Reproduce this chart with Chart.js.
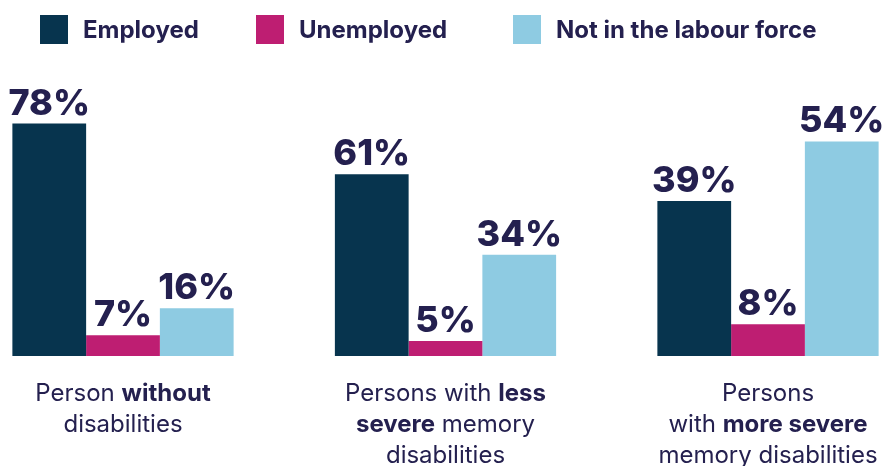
<!DOCTYPE html>
<html>
<head>
<meta charset="utf-8">
<script src="https://cdn.jsdelivr.net/npm/chart.js@4/dist/chart.umd.min.js"></script>
<style>
  html, body { margin: 0; padding: 0; background: #fff; }
  #wrap { position: relative; width: 890px; height: 466px; }
  #legend {
    position: absolute; top: 15px; left: 40px;
    display: flex; align-items: center;
    font-family: Inter, "Noto Sans", sans-serif; font-weight: 700; font-size: 24px; color: #24204f;
  }
  #legend .item { display: flex; align-items: center; }
  #legend .item:nth-child(1) { width: 216px; }
  #legend .item:nth-child(2) { width: 257px; }
  #legend .box { width: 28px; height: 29px; margin-right: 15px; }
</style>
</head>
<body>
<div id="wrap">
  <div id="legend"></div>
  <canvas id="chart" width="890" height="466"></canvas>
</div>
<script>
// categories, one entry per line; **...** marks the bold part
const categories = [
  ['Person **without**', 'disabilities'],
  ['Persons with **less**', '**severe** memory', 'disabilities'],
  ['Persons', 'with **more severe**', 'memory disabilities']
];
const seriesNames = ['Employed', 'Unemployed', 'Not in the labour force'];
const seriesColors = ['#07344e', '#be1e72', '#8ecbe2'];

const employed = [78, 61, 39];
const unemployed = [7, 5, 8];
const notInLabourForce = [16, 34, 54];

const textColor = '#24204f';

// the third group is drawn at a larger scale in the original picture,
// so it gets its own hidden axis
const seriesValues = [employed, unemployed, notInLabourForce];
const datasets = [];
seriesValues.forEach((vals, s) => {
  datasets.push({
    label: seriesNames[s],
    data: vals.map((v, i) => i < 2 ? v : null),
    backgroundColor: seriesColors[s],
    yAxisID: 'y',
    clip: false
  });
});
seriesValues.forEach((vals, s) => {
  datasets.push({
    label: seriesNames[s],
    data: vals.map((v, i) => i === 2 ? v : null),
    backgroundColor: seriesColors[s],
    yAxisID: 'y2',
    clip: false
  });
});

// html legend
const legendEl = document.getElementById('legend');
seriesNames.forEach((name, i) => {
  const item = document.createElement('div');
  item.className = 'item';
  item.innerHTML = '<span class="box" style="background:' + seriesColors[i] + '"></span><span>' + name + '</span>';
  legendEl.appendChild(item);
});

const valueLabels = {
  id: 'valueLabels',
  afterDatasetsDraw(chart) {
    const ctx = chart.ctx;
    ctx.save();
    ctx.font = '800 36px Inter, "Noto Sans", sans-serif';
    ctx.fillStyle = textColor;
    ctx.textAlign = 'center';
    ctx.textBaseline = 'alphabetic';
    chart.data.datasets.forEach((ds, d) => {
      const meta = chart.getDatasetMeta(d);
      meta.data.forEach((bar, i) => {
        const v = ds.data[i];
        if (v === null) return;
        ctx.fillText(v + '%', bar.x, bar.y - 9);
      });
    });
    ctx.restore();
  }
};

const categoryLabels = {
  id: 'categoryLabels',
  afterDraw(chart) {
    const ctx = chart.ctx;
    const xScale = chart.scales.x;
    const base = chart.chartArea.bottom;
    const normal = '400 24px Inter, "Noto Sans", sans-serif';
    const bold = '700 24px Inter, "Noto Sans", sans-serif';
    ctx.save();
    ctx.fillStyle = textColor;
    ctx.textAlign = 'left';
    ctx.textBaseline = 'alphabetic';
    categories.forEach((lines, i) => {
      const cx = xScale.getPixelForValue(i);
      lines.forEach((line, l) => {
        const parts = line.split('**');
        let total = 0;
        parts.forEach((p, k) => {
          ctx.font = k % 2 ? bold : normal;
          total += ctx.measureText(p).width;
        });
        let x = cx - total / 2;
        const y = base + 45 + l * 31;
        parts.forEach((p, k) => {
          ctx.font = k % 2 ? bold : normal;
          ctx.fillText(p, x, y);
          x += ctx.measureText(p).width;
        });
      });
    });
    ctx.restore();
  }
};

new Chart(document.getElementById('chart').getContext('2d'), {
  type: 'bar',
  data: {
    labels: categories.map(c => c.join(' ').replace(/\*\*/g, '')),
    datasets: datasets
  },
  options: {
    responsive: false,
    animation: false,
    skipNull: true,
    layout: { padding: { left: 123, right: 122, top: 58, bottom: 110 } },
    datasets: { bar: { categoryPercentage: 0.686, barPercentage: 1, borderWidth: 0 } },
    plugins: {
      legend: { display: false },
      tooltip: { enabled: false }
    },
    scales: {
      x: { display: false, offset: false, grid: { display: false } },
      y: { display: false, min: 0, max: 100 },
      y2: { display: false, min: 0, max: 75 }
    }
  },
  plugins: [valueLabels, categoryLabels]
});
</script>
</body>
</html>
